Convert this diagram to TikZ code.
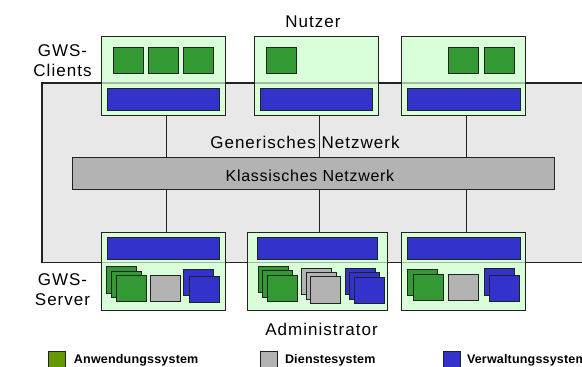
\documentclass[tikz,border=0pt]{standalone}
\usepackage{fontspec}
\setmainfont{Liberation Sans}
\newfontfamily\lblfont[LetterSpace=6]{Liberation Sans}
\newfontfamily\netfont[LetterSpace=4.5]{Liberation Sans}
\newfontfamily\legfont[LetterSpace=1.5]{Liberation Sans}
\definecolor{boxgreen}{RGB}{217,255,217}
\definecolor{sqgreen}{RGB}{51,153,51}
\definecolor{vblue}{RGB}{51,51,204}
\definecolor{sqgray}{RGB}{179,179,179}
\definecolor{netgray}{RGB}{232,232,232}
\definecolor{leggreen}{RGB}{102,153,0}
\definecolor{edge}{RGB}{34,34,34}
\begin{document}
\begin{tikzpicture}[x=1pt,y=-1pt,
  every node/.style={inner sep=0pt,outer sep=0pt},
  hostbox/.style={rectangle,draw=edge,fill=boxgreen,line width=1pt,anchor=north west},
  sysbar/.style={rectangle,draw=edge,fill=vblue,line width=1pt,anchor=north west,minimum height=22},
  sqbase/.style={rectangle,draw=edge,line width=1pt,anchor=north west,minimum width=30,minimum height=26.5},
  gsq/.style={sqbase,fill=sqgreen},
  bsq/.style={sqbase,fill=vblue},
  ysq/.style={sqbase,fill=sqgray},
  legsq/.style={rectangle,draw=edge,line width=0.8pt,anchor=north west,minimum width=17,minimum height=17},
  lbl/.style={font=\lblfont\fontsize{17}{20}\selectfont},
  legtxt/.style={font=\legfont\bfseries\fontsize{12.5}{14}\selectfont,anchor=base west},
  wire/.style={draw=edge,line width=1pt}
]
\clip (0,0) rectangle (582,367);
\useasboundingbox (0,0) rectangle (582,367);

% generic network
\path[fill=netgray,draw=edge,line width=1.3pt] (42,83) rectangle (600,262.5);
\node[lbl,anchor=base] (gen) at (305,148) {Generisches Netzwerk};
\node[rectangle,draw=edge,fill=sqgray,line width=1pt,anchor=north west,minimum width=482,minimum height=32] (kn) at (72,157) {};
\node[font=\netfont\fontsize{16}{18}\selectfont,anchor=base] (kntxt) at (310,181.5) {Klassisches Netzwerk};

% client boxes
\node[hostbox,minimum width=124,minimum height=79] (c1) at (101,36) {};
\node[hostbox,minimum width=124,minimum height=79] (c2) at (254,36) {};
\node[hostbox,minimum width=124,minimum height=79] (c3) at (401,36) {};
% server boxes
\node[hostbox,minimum width=124,minimum height=78] (s1) at (101,232) {};
\node[hostbox,minimum width=140,minimum height=78] (s2) at (247,232) {};
\node[hostbox,minimum width=124,minimum height=78] (s3) at (401,232) {};

% faint network border over boxes
\path[draw=edge,draw opacity=0.3,line width=1.3pt] (42,83) rectangle (600,262.5);

% connectors
\draw[wire] ([xshift=3pt]c1.south) -- ([xshift=3pt]c1.south |- kn.north);
\draw[wire] ([xshift=3pt]c2.south) -- ([xshift=3pt]c2.south |- kn.north);
\draw[wire] ([xshift=3pt]c3.south) -- ([xshift=3pt]c3.south |- kn.north);
\draw[wire] ([xshift=3pt]c1.south |- kn.south) -- ([xshift=3pt]c1.south |- s1.north);
\draw[wire] ([xshift=3pt]c2.south |- kn.south) -- ([xshift=3pt]c2.south |- s2.north);
\draw[wire] ([xshift=3pt]c3.south |- kn.south) -- ([xshift=3pt]c3.south |- s3.north);

% client content
\node[sysbar,minimum width=112] (c1bar) at (107,88) {};
\node[sysbar,minimum width=112] (c2bar) at (260,88) {};
\node[sysbar,minimum width=113] (c3bar) at (407,88) {};
\node[gsq,minimum height=26] (c1a) at (113,47) {};
\node[gsq,minimum height=26] (c1b) at (148,47) {};
\node[gsq,minimum height=26] (c1c) at (183,47) {};
\node[gsq,minimum height=26] (c2a) at (266,47) {};
\node[gsq,minimum height=26] (c3a) at (448,47) {};
\node[gsq,minimum height=26] (c3b) at (484,47) {};

% server content
\node[sysbar,minimum width=112] (s1bar) at (107,237) {};
\node[sysbar,minimum width=120] (s2bar) at (257,237) {};
\node[sysbar,minimum width=113] (s3bar) at (407,237) {};
% server 1
\node[gsq] (s1g1) at (106.7,266.7) {};
\node[gsq] (s1g2) at (111.7,271) {};
\node[gsq] (s1g3) at (116.3,275.3) {};
\node[ysq] (s1y1) at (150.3,275) {};
\node[bsq] (s1b1) at (183.3,269) {};
\node[bsq] (s1b2) at (189.3,276) {};
% server 2
\node[gsq] (s2g1) at (258.3,266) {};
\node[gsq] (s2g2) at (262.7,270.7) {};
\node[gsq] (s2g3) at (267.3,275) {};
\node[ysq] (s2y1) at (301,268.3) {};
\node[ysq] (s2y2) at (306,272.7) {};
\node[ysq] (s2y3) at (310.3,276.7) {};
\node[bsq] (s2b1) at (345,268.3) {};
\node[bsq] (s2b2) at (349.7,272.7) {};
\node[bsq] (s2b3) at (354.3,277.3) {};
% server 3
\node[gsq] (s3g1) at (407.3,269.3) {};
\node[gsq] (s3g2) at (413.3,274.3) {};
\node[ysq] (s3y1) at (448.7,274.3) {};
\node[bsq] (s3b1) at (484,268.7) {};
\node[bsq] (s3b2) at (489.3,275.3) {};

% labels
\node[lbl,anchor=base] (nutzer) at (313,27) {Nutzer};
\node[lbl,align=center] (gwsc) at (62.5,61) {GWS-\\Clients};
\node[lbl,align=center] (gwss) at (62.5,290) {GWS-\\Server};
\node[lbl,anchor=base] (admin) at (321.5,335) {Administrator};

% legend
\node[legsq,fill=leggreen] (lg1) at (48,351) {};
\node[legtxt] (lt1) at (74,363.5) {Anwendungssystem};
\node[legsq,fill=sqgray] (lg2) at (260,351) {};
\node[legtxt] (lt2) at (285,363.5) {Dienstesystem};
\node[legsq,fill=vblue] (lg3) at (443,351) {};
\node[legtxt] (lt3) at (467,363.5) {Verwaltungssystem};
\end{tikzpicture}
\end{document}
